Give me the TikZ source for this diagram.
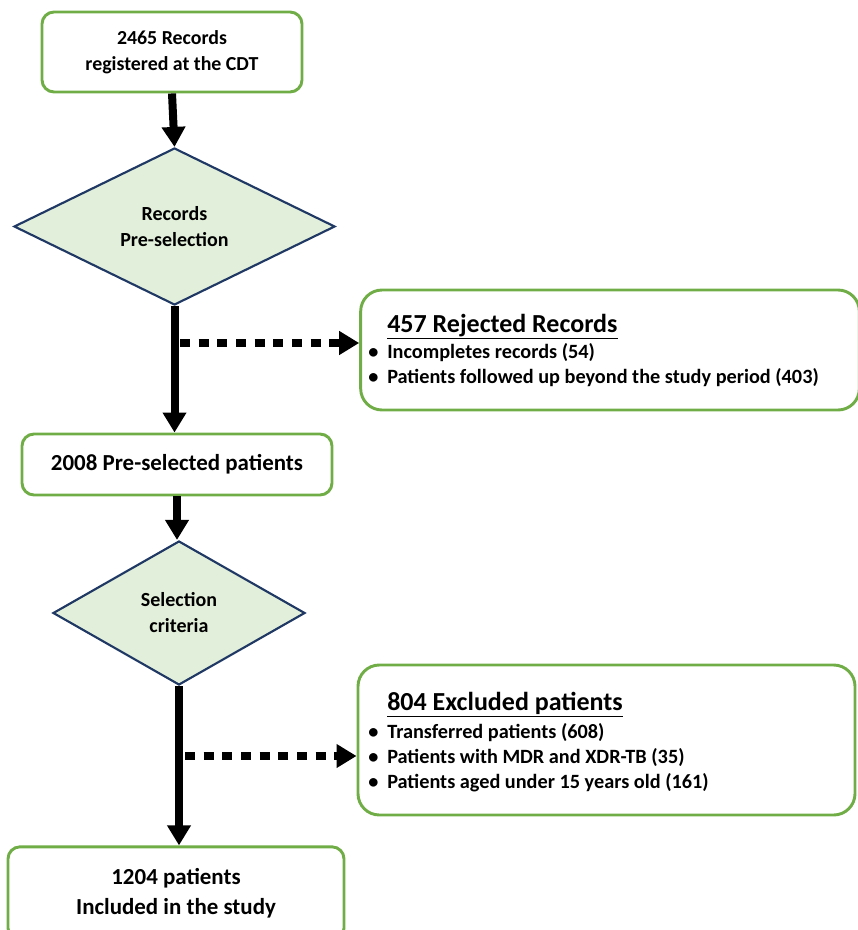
\documentclass[tikz,border=0pt]{standalone}
\usepackage{fontspec}
\setmainfont{Carlito}
\usetikzlibrary{shapes.geometric,arrows.meta}
\definecolor{boxgreen}{HTML}{70AD47}
\definecolor{diafill}{HTML}{E2EFDA}
\definecolor{diaedge}{HTML}{1F3864}

\begin{document}
\begin{tikzpicture}[x=0.75pt,y=-0.75pt,
  greenbox/.style={draw=boxgreen,line width=2.2pt,rounded corners=9pt,align=center,inner sep=0pt},
  notebox/.style={draw=boxgreen,line width=2.2pt,rounded corners=16pt,inner sep=0pt},
  decision/.style={diamond,draw=diaedge,fill=diafill,line width=1.6pt,align=center,inner sep=0pt,
    font=\fontsize{15}{19.5}\selectfont\bfseries},
  flow/.style={line width=6pt,-{Triangle[width=17pt,length=15pt]}},
  dropout/.style={line width=6.5pt,dash pattern=on 7.5pt off 6.5pt,-{Triangle[width=17pt,length=15pt]}},
  listtext/.style={anchor=base west,inner sep=0pt,font=\fontsize{15.2}{18.75}\selectfont\bfseries}]
\useasboundingbox (0,0) rectangle (857,930);

% main column
\node[greenbox,minimum width=195pt,minimum height=60pt,font=\fontsize{14.9}{19.5}\selectfont\bfseries]
  (records) at (172,52) {2465 Records\\registered at the CDT};
\node[decision,minimum width=240.75pt,minimum height=117.75pt] (presel) at (174.5,226.5) {Records\\Pre-selection};
\node[greenbox,minimum width=232.5pt,minimum height=45.75pt,font=\fontsize{17.2}{21}\selectfont\bfseries]
  (preselected) at (177,464.5) {2008 Pre-selected patients};
\node[decision,minimum width=189pt,minimum height=108pt] (criteria) at (179,613) {Selection\\criteria};
\node[greenbox,minimum width=252pt,minimum height=70pt,font=\fontsize{17.2}{22.5}\selectfont\bfseries]
  (included) at (176,893.5) {1204 patients\\Included in the study};

% side boxes
\node[notebox,minimum width=374pt,minimum height=90pt] (rejected) at (610,350) {};
\node[listtext] (rejlist) at (368,332) {\begin{tabular}[t]{@{}p{14.25pt}@{}l@{}}
  & {\fontsize{19.5}{20}\selectfont\underline{457 Rejected Records}}\\[0.75pt]
  \textbullet & Incompletes records (54)\\
  \textbullet & Patients followed up beyond the study period (403)
\end{tabular}};
\node[notebox,minimum width=372.75pt,minimum height=112.5pt] (excluded) at (606.5,740) {};
\node[listtext] (exclist) at (368,710) {\begin{tabular}[t]{@{}p{14.25pt}@{}l@{}}
  & {\fontsize{19.5}{20}\selectfont\underline{804 Excluded patients}}\\[2.25pt]
  \textbullet & Transferred patients (608)\\
  \textbullet & Patients with MDR and XDR-TB (35)\\
  \textbullet & Patients aged under 15 years old (161)
\end{tabular}};

% connectors
\coordinate (rejfrom) at (180,343);
\coordinate (excfrom) at (185,756);
\draw[flow] (records.south) -- (presel.north);
\draw[flow] (presel.south) -- (presel.south |- preselected.north);
\draw[flow] (preselected.south) -- (preselected.south |- criteria.north);
\draw[flow] (criteria.south) -- (criteria.south |- included.north);
\draw[dropout] (rejfrom) -- (rejfrom -| rejected.west);
\draw[dropout] (excfrom) -- (excfrom -| excluded.west);
\end{tikzpicture}
\end{document}
